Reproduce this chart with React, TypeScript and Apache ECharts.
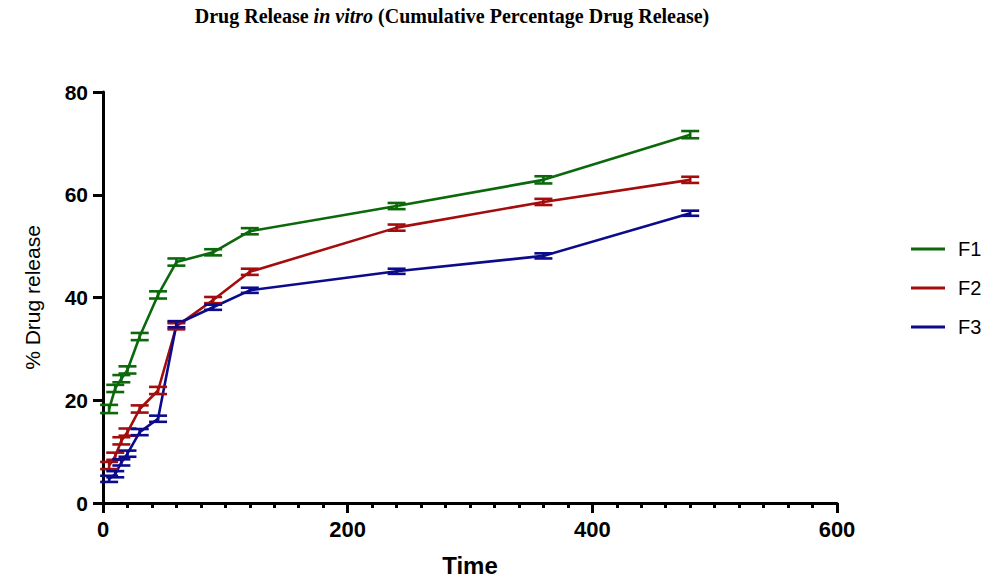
import React, { useEffect, useRef } from "react";
import * as echarts from "echarts";

const times = [5, 10, 15, 20, 30, 45, 60, 90, 120, 240, 360, 480];
const f1 = [18.3, 22.3, 24.2, 25.9, 32.4, 40.5, 46.9, 48.8, 52.9, 57.8, 62.9, 71.7];
const f2 = [7.3, 9.1, 12.1, 13.8, 18.3, 21.9, 34.4, 39.5, 45.0, 53.6, 58.6, 62.9];
const f3 = [4.7, 5.6, 7.9, 9.6, 13.8, 16.4, 34.8, 38.1, 41.4, 45.1, 48.1, 56.4];
const f1Err = [0.8, 0.7, 0.7, 0.7, 0.7, 0.7, 0.7, 0.6, 0.6, 0.6, 0.7, 0.7];
const f2Err = [0.7, 0.7, 0.7, 0.7, 0.7, 0.7, 0.6, 0.6, 0.6, 0.6, 0.6, 0.6];
const f3Err = [0.6, 0.6, 0.6, 0.6, 0.6, 0.6, 0.6, 0.5, 0.5, 0.5, 0.5, 0.5];
const seriesNames = ["F1", "F2", "F3"];
const colors = ["#0b690b", "#a40d0d", "#0b0b8c"];
const yTicks = [0, 20, 40, 60, 80];
const xTicks = [0, 200, 400, 600];

export default function App() {
  const ref = useRef<HTMLDivElement>(null);
  useEffect(() => {
    if (!ref.current) return;
    const chart = echarts.init(ref.current, undefined, { renderer: "svg" });
    const values = [f1, f2, f3];
    const errs = [f1Err, f2Err, f3Err];
    const lineSeries = values.map((v, i) => ({
      name: seriesNames[i],
      type: "line",
      data: times.map((t, j) => [t, v[j]]),
      symbol: "none",
      lineStyle: { color: colors[i], width: 2.6 },
      itemStyle: { color: colors[i] },
      z: 2,
    }));
    const errSeries = values.map((v, i) => ({
      name: seriesNames[i] + " error",
      type: "custom",
      data: times.map((t, j) => [t, v[j] - errs[i][j], v[j] + errs[i][j]]),
      encode: { x: 0, y: [1, 2] },
      z: 3,
      renderItem: (params: any, api: any) => {
        const x = api.value(0);
        const top = api.coord([x, api.value(2)]);
        const bot = api.coord([x, api.value(1)]);
        const hw = 9;
        const style = { stroke: colors[i], lineWidth: 2.6 };
        return {
          type: "group",
          children: [
            { type: "line", shape: { x1: top[0], y1: top[1], x2: bot[0], y2: bot[1] }, style },
            { type: "line", shape: { x1: top[0] - hw, y1: top[1], x2: top[0] + hw, y2: top[1] }, style },
            { type: "line", shape: { x1: bot[0] - hw, y1: bot[1], x2: bot[0] + hw, y2: bot[1] }, style },
          ],
        };
      },
    }));
    const tickFont = "'Liberation Sans', Arial, sans-serif";
    chart.setOption({
      animation: false,
      backgroundColor: "#ffffff",
      graphic: [
        {
          type: "text",
          x: 452,
          y: 16,
          style: {
            text: "{b|Drug Release }{i|in vitro}{b| (Cumulative Percentage Drug Release)}",
            align: "center",
            verticalAlign: "middle",
            rich: {
              b: { fontFamily: "'Liberation Serif', 'Times New Roman', serif", fontWeight: "bold", fontSize: 20, fill: "#000" },
              i: { fontFamily: "'Liberation Serif', 'Times New Roman', serif", fontWeight: "bold", fontStyle: "italic", fontSize: 20, fill: "#000" },
            },
          },
        },
      ],
      legend: {
        data: seriesNames,
        orient: "vertical",
        left: 906,
        top: 234,
        itemWidth: 34,
        itemHeight: 3,
        itemGap: 19,
        icon: "rect",
        textStyle: { fontFamily: "'Liberation Sans', Arial, sans-serif", fontSize: 20, color: "#000", padding: [0, 0, 0, 8] },
      },
      grid: { left: 103, right: 168, top: 92, bottom: 80, containLabel: false },
      xAxis: {
        type: "value",
        min: xTicks[0],
        max: xTicks[xTicks.length - 1],
        interval: 200,
        name: "Time",
        nameLocation: "middle",
        nameGap: 50,
        nameTextStyle: { fontFamily: tickFont, fontWeight: "bold", fontSize: 24, color: "#000" },
        axisLine: { show: true, onZero: false, lineStyle: { color: "#000", width: 3 } },
        axisTick: { show: true, length: 10, lineStyle: { color: "#000", width: 3 } },
        minorTick: { show: true, splitNumber: 10, length: 5, lineStyle: { color: "#000", width: 3 } },
        axisLabel: { fontFamily: tickFont, fontWeight: "bold", fontSize: 22, color: "#000", margin: 15 },
        splitLine: { show: false },
      },
      yAxis: {
        type: "value",
        min: yTicks[0],
        max: yTicks[yTicks.length - 1],
        interval: 20,
        name: "% Drug release",
        nameLocation: "middle",
        nameGap: 60,
        nameTextStyle: { fontFamily: "'Liberation Sans', Arial, sans-serif", fontSize: 21, color: "#000" },
        axisLine: { show: true, onZero: false, lineStyle: { color: "#000", width: 3 } },
        axisTick: { show: true, length: 10, lineStyle: { color: "#000", width: 3 } },
        axisLabel: { fontFamily: tickFont, fontWeight: "bold", fontSize: 21, color: "#000", margin: 15 },
        splitLine: { show: false },
      },
      series: [...lineSeries, ...errSeries],
    });
    return () => chart.dispose();
  }, []);
  return (
    <div
      ref={ref}
      style={{ position: "fixed", left: 0, top: 0, width: 1005, height: 583, background: "#fff" }}
    />
  );
}
